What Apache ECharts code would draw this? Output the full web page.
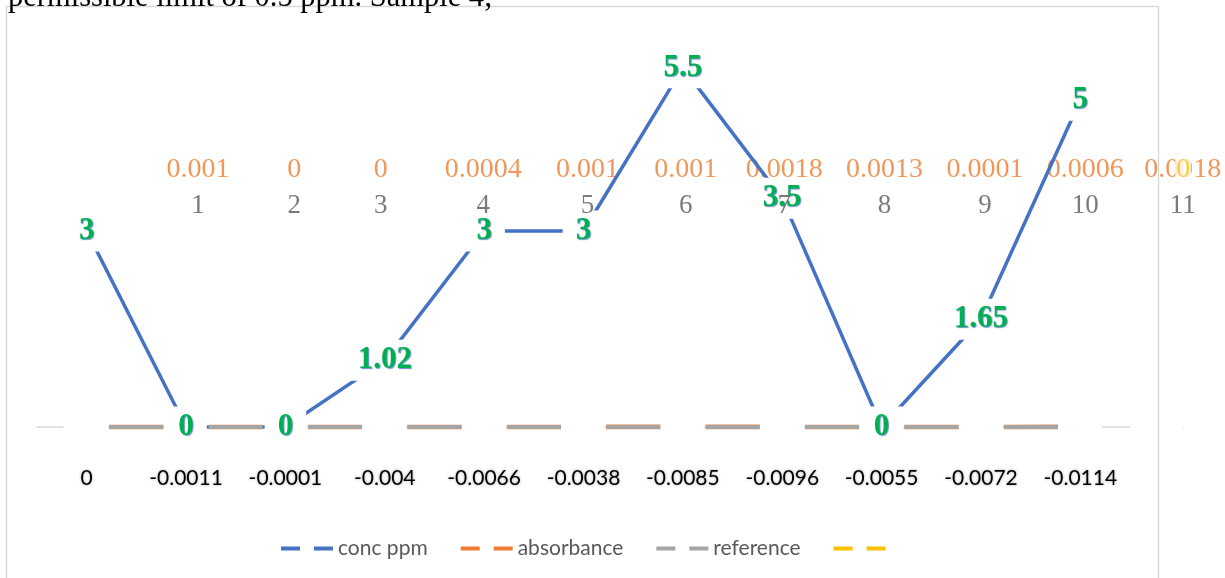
<!DOCTYPE html>
<html>
<head>
<meta charset="utf-8">
<script src="https://cdn.jsdelivr.net/npm/echarts@6/dist/echarts.min.js"></script>
<style>html,body{margin:0;padding:0;background:#fff}#c{width:1225px;height:578px}</style>
</head>
<body>
<div id="c"></div>
<script>
// ---- data ----
var categories = ['0','-0.0011','-0.0001','-0.004','-0.0066','-0.0038','-0.0085','-0.0096','-0.0055','-0.0072','-0.0114'];
var concPpm = [3, 0, 0, 1.02, 3, 3, 5.5, 3.5, 0, 1.65, 5];
var absorbance = [0.001, 0, 0, 0.0004, 0.001, 0.001, 0.0018, 0.0013, 0.0001, 0.0006, 0.0018];
var reference = [0, 0, 0, 0, 0, 0, 0, 0, 0, 0, 0];
var sampleNumbers = ['1','2','3','4','5','6','7','8','9','10','11'];
// positions (in category units) of the secondary sample-number labels
var samplePos = [1.12, 2.09, 2.96, 3.99, 5.04, 6.03, 7.02, 8.03, 9.04, 10.05, 11.03];
var extraSeries = [0];
var titleText = 'permissible limit of 0.5 ppm. Sample 4;';

var dashIcon = 'path://M0,0h19v4h-19z M33,0h19v4h-19z';
var chart = echarts.init(document.getElementById('c'));
var serif = 'Liberation Serif';
var dashPat = [54, 45.4];

chart.setOption({
  animation: false,
  graphic: [
    { type: 'rect', shape: { x: 6.5, y: 6.5, width: 1152, height: 640 }, style: { fill: 'none', stroke: '#D9D9D9', lineWidth: 1.5 }, z: -1 },
    { type: 'text', left: 8, top: -18, style: { text: titleText, font: '30.5px "Liberation Serif"', fill: '#000' } }
  ],
  grid: { left: 37, right: 95, top: 35, bottom: 151, containLabel: false },
  legend: {
    left: 276, top: 533,
    itemWidth: 52, itemHeight: 4, itemGap: 33,
    textStyle: { fontFamily: 'Lato', fontSize: 21, color: '#595959' },
    data: [
      { name: 'conc ppm', icon: dashIcon },
      { name: 'absorbance', icon: dashIcon },
      { name: 'reference', icon: dashIcon },
      { name: ' ', icon: dashIcon, itemStyle: { color: '#FFC000', opacity: 1 } }
    ]
  },
  xAxis: [
    {
      type: 'category', data: categories, boundaryGap: true,
      axisLine: { show: true, lineStyle: { color: '#D9D9D9', width: 1.5, type: dashPat, dashOffset: 28 } },
      axisTick: { show: false },
      axisLabel: { interval: 0, margin: 41, fontFamily: 'Lato', fontSize: 21, color: '#000',
        textShadowColor: 'rgba(0,0,0,0.35)', textShadowBlur: 3 }
    },
    { type: 'value', min: -0.5, max: 10.5, show: false }
  ],
  yAxis: [{ type: 'value', min: 0, max: 6, show: false, splitLine: { show: false } }],
  series: [
    {
      name: 'absorbance-labels', type: 'scatter', xAxisIndex: 1, z: 1, clip: false, silent: true,
      symbolSize: 1, itemStyle: { color: 'rgba(0,0,0,0)' },
      data: samplePos.map(function (p, i) { return [p, absorbance[i]]; }),
      label: { show: true, position: 'inside', offset: [0, -257], fontFamily: serif, fontSize: 28, color: '#ED7D31',
        formatter: function (p) { return String(absorbance[p.dataIndex]); } }
    },
    {
      name: ' ', type: 'scatter', xAxisIndex: 1, z: 1, clip: false,
      symbolSize: 1, itemStyle: { color: '#FFC000' },
      data: extraSeries.map(function (v) { return [samplePos[samplePos.length - 1] + 0.005, v]; }),
      label: { show: true, position: 'inside', offset: [0, -257], fontFamily: serif, fontSize: 28, color: '#FFC000',
        backgroundColor: '#fff', padding: [0, 1],
        formatter: function (p) { return String(extraSeries[p.dataIndex]); } }
    },
    {
      name: 'absorbance', type: 'line', z: 2, data: absorbance, symbol: 'none', clip: false,
      itemStyle: { color: '#ED7D31' },
      lineStyle: { color: '#ED7D31', width: 4.6, type: dashPat, dashOffset: 76.8 }
    },
    {
      name: 'conc ppm', type: 'line', z: 3, data: concPpm, clip: false,
      symbol: 'circle', symbolSize: 2, showSymbol: true,
      itemStyle: { color: '#4472C4' },
      lineStyle: { color: '#4472C4', width: 3.5 },
      label: { show: true, position: 'inside', fontFamily: serif, fontWeight: 'bold', fontSize: 31, color: '#00B050',
        backgroundColor: '#fff', padding: [5, 13],
        textShadowColor: 'rgba(68,114,196,0.8)', textShadowOffsetX: 1, textShadowOffsetY: 1, textShadowBlur: 1 }
    },
    {
      name: 'reference', type: 'line', z: 10, data: reference, symbol: 'none', clip: false,
      itemStyle: { color: '#A5A5A5' },
      lineStyle: { color: '#A5A5A5', width: 4, type: dashPat, dashOffset: 76.8 }
    },
    {
      name: 'sample-labels', type: 'scatter', xAxisIndex: 1, z: 11, clip: false, silent: true,
      symbolSize: 1, itemStyle: { color: 'rgba(0,0,0,0)' },
      data: samplePos.map(function (p) { return [p, 0]; }),
      label: { show: true, position: 'inside', offset: [0, -221], fontFamily: serif, fontSize: 27, color: '#595959',
        formatter: function (p) { return sampleNumbers[p.dataIndex]; } }
    }
  ]
});
</script>
</body>
</html>
